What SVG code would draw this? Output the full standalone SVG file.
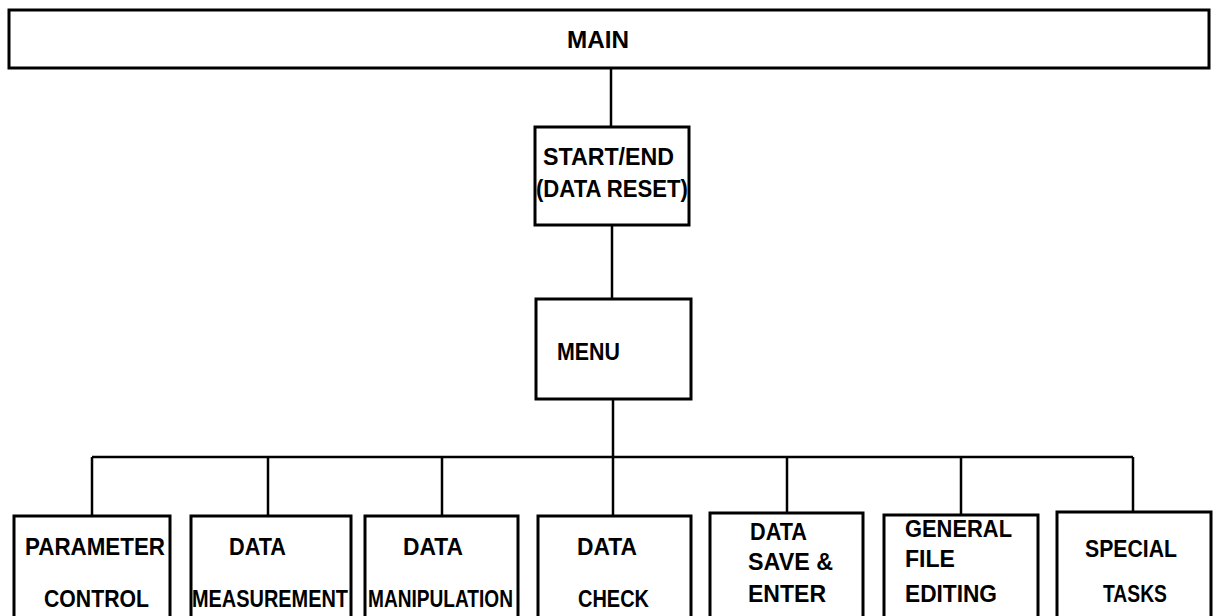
<svg xmlns="http://www.w3.org/2000/svg" width="1215" height="616" viewBox="0 0 1215 616">
<style>
.box{fill:#fff;stroke:#000;stroke-width:3}
.ln{fill:none;stroke:#000;stroke-width:2.5}
text{font-family:"Liberation Sans",Arial,sans-serif;font-weight:bold;font-size:23px;fill:#000}
</style>
<rect width="1215" height="616" fill="#fff"/>
<g id="connectors">
<path class="ln" d="M611 68V127M612 225V299M613 399V457M92 457H1133M92 457V516M268 457V516M442 457V516M613 457V516M787 457V513M961 457V515M1133 457V512"/>
</g>
<g id="main"><rect class="box" x="9" y="10" width="1200" height="58"/><text x="567" y="48" textLength="62" lengthAdjust="spacingAndGlyphs">MAIN</text></g>
<g id="startend"><rect class="box" x="535" y="127" width="154" height="98"/>
<text x="543" y="165" textLength="131" lengthAdjust="spacingAndGlyphs">START/END</text>
<text x="536" y="197" textLength="152" lengthAdjust="spacingAndGlyphs">(DATA RESET)</text></g>
<g id="menu"><rect class="box" x="536" y="299" width="155" height="100"/>
<text x="557" y="360" textLength="63" lengthAdjust="spacingAndGlyphs">MENU</text></g>
<g id="param"><rect class="box" x="14" y="516" width="156" height="110"/>
<text x="25" y="555" textLength="140" lengthAdjust="spacingAndGlyphs">PARAMETER</text>
<text x="44" y="607" textLength="105" lengthAdjust="spacingAndGlyphs">CONTROL</text></g>
<g id="measure"><rect class="box" x="191" y="516" width="160" height="110"/>
<text x="229" y="555" textLength="57" lengthAdjust="spacingAndGlyphs">DATA</text>
<text x="192" y="607" textLength="156" lengthAdjust="spacingAndGlyphs">MEASUREMENT</text></g>
<g id="manip"><rect class="box" x="365" y="516" width="153" height="110"/>
<text x="403" y="555" textLength="60" lengthAdjust="spacingAndGlyphs">DATA</text>
<text x="368" y="607" textLength="145" lengthAdjust="spacingAndGlyphs">MANIPULATION</text></g>
<g id="check"><rect class="box" x="538" y="516" width="153" height="110"/>
<text x="577" y="555" textLength="60" lengthAdjust="spacingAndGlyphs">DATA</text>
<text x="578" y="607" textLength="71" lengthAdjust="spacingAndGlyphs">CHECK</text></g>
<g id="save"><rect class="box" x="710" y="513" width="153" height="113"/>
<text x="750" y="540" textLength="57" lengthAdjust="spacingAndGlyphs">DATA</text>
<text x="748" y="570" textLength="85" lengthAdjust="spacingAndGlyphs">SAVE &amp;</text>
<text x="748" y="602" textLength="78" lengthAdjust="spacingAndGlyphs">ENTER</text></g>
<g id="general"><rect class="box" x="884" y="515" width="154" height="111"/>
<text x="905" y="537" textLength="107" lengthAdjust="spacingAndGlyphs">GENERAL</text>
<text x="905" y="567" textLength="50" lengthAdjust="spacingAndGlyphs">FILE</text>
<text x="905" y="602" textLength="92" lengthAdjust="spacingAndGlyphs">EDITING</text></g>
<g id="special"><rect class="box" x="1057" y="512" width="154" height="114"/>
<text x="1085" y="557" textLength="92" lengthAdjust="spacingAndGlyphs">SPECIAL</text>
<text x="1103" y="602" textLength="64" lengthAdjust="spacingAndGlyphs">TASKS</text></g>
</svg>
